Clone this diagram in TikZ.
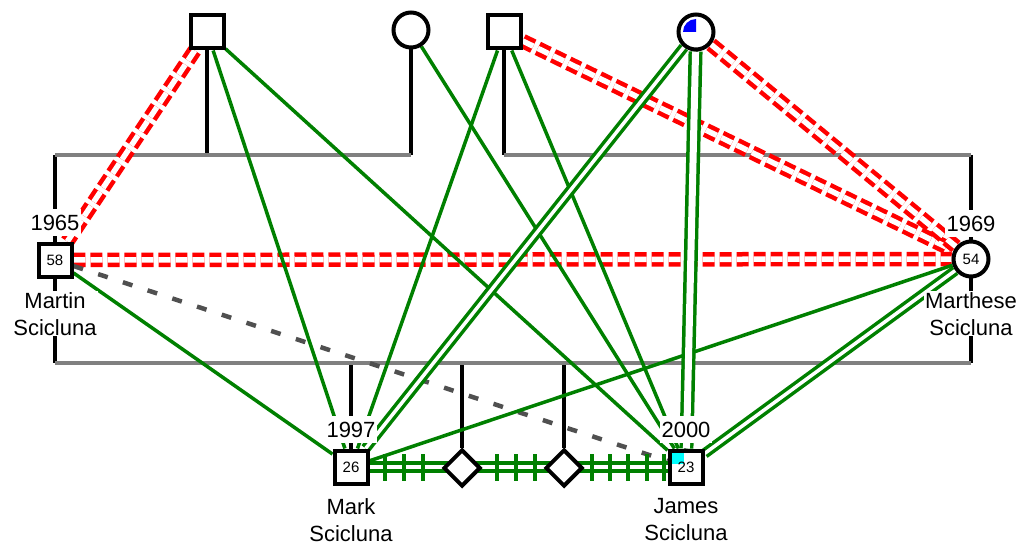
\documentclass[tikz,border=0pt]{standalone}
\usepackage{fontspec}
\setmainfont{Liberation Sans}
\usetikzlibrary{shapes.geometric}
\definecolor{relgreen}{RGB}{0,128,0}
\definecolor{linegray}{RGB}{128,128,128}
\definecolor{dashgray}{RGB}{80,80,80}
\definecolor{conflictred}{RGB}{255,0,0}
\definecolor{markblue}{RGB}{0,0,255}
\definecolor{markcyan}{RGB}{0,255,255}
\pgfdeclarelayer{structure}
\pgfdeclarelayer{relations}
\pgfsetlayers{structure,relations,main}
\tikzset{
  male/.style={rectangle, draw, line width=4pt, fill=white, minimum size=33pt,
    inner sep=0pt, font=\fontsize{15}{15}\selectfont},
  female/.style={circle, draw, line width=4pt, fill=white, minimum size=35pt,
    inner sep=0pt, font=\fontsize{15}{15}\selectfont},
  unknown/.style={diamond, draw, line width=4pt, fill=white, minimum width=37pt,
    minimum height=37pt, inner sep=0pt},
  year/.style={fill=white, inner xsep=2pt, inner ysep=6pt, anchor=base,
    font=\fontsize{22}{22}\selectfont},
  person name/.style={fill=white, inner sep=1pt, align=center, anchor=north,
    font=\fontsize{22}{27}\selectfont},
  kin/.style={line width=3.5pt, black},
  sibship/.style={line width=4pt, linegray},
  bond/.style={line width=3.5pt, relgreen},
  closebond/.style={line width=3.5pt, draw=relgreen, double=white, double distance=3.5pt},
  hostile/.style={line width=4.5pt, draw=conflictred, double=white, double distance=5.5pt,
    dash pattern=on 12pt off 5pt},
  distant/.style={line width=4.5pt, dashgray, dash pattern=on 10pt off 16pt},
  hatchbar/.style={line width=3.5pt, relgreen},
}
\begin{document}
\begin{tikzpicture}[x=1pt, y=-1pt]
\useasboundingbox (0,0) rectangle (1022,548);

% grandparents
\node[male]   (gpa1) at (207,32) {};
\node[female] (gma1) at (411,30) {};
\node[male]   (gpa2) at (504,32) {};
\node[female, path picture={\fill[markblue] (path picture bounding box.center)
    -- ++(-13pt,0pt) arc[start angle=180, end angle=90, radius=13pt] -- cycle;}]
  (gma2) at (696,32) {};

% couple
\node[male]   (martin)   at (55,260)  {58};
\node[female] (marthese) at (971,259) {54};

% children
\node[male] (mark) at (351,467) {26};
\node[male, path picture={\fill[markcyan]
    ([xshift=-17pt, yshift=3pt]path picture bounding box.center)
    rectangle ([xshift=-2pt, yshift=17pt]path picture bounding box.center);}]
  (james) at (686,467) {23};
\node[unknown] (u1) at (462,468) {};
\node[unknown] (u2) at (564,468) {};

% family line end points
\coordinate (famAl) at (55,155);
\coordinate (famAr) at (411,155);
\coordinate (famBl) at (504,155);
\coordinate (famBr) at (971,155);
\coordinate (famCl) at (55,363);
\coordinate (famCr) at (971,363);

\begin{pgfonlayer}{structure}
  \draw[kin] (gpa1) -- (gpa1 |- famAl);
  \draw[kin] (gma1) -- (gma1 |- famAl);
  \draw[kin] (gpa2) -- (gpa2 |- famBl);
  \draw[kin] (gma2) -- (gma2 |- famBl);
  \draw[kin] (famAl) -- (famCl);
  \draw[kin] (famBr) -- (famCr);
  \draw[kin] (mark) -- (mark |- famCl);
  \draw[kin] (u1) -- (u1 |- famCl);
  \draw[kin] (u2) -- (u2 |- famCl);
  \draw[kin] (james) -- (james |- famCl);
  \draw[sibship] (famAl) -- (famAr);
  \draw[sibship] (famBl) -- (famBr);
  \draw[sibship] (famCl) -- (famCr);
\end{pgfonlayer}

\begin{pgfonlayer}{relations}
  % hostile relations
  \draw[hostile] (gpa1) -- (martin);
  \draw[hostile] (gpa2) -- (marthese);
  \draw[hostile] (gma2) -- (marthese);
  \draw[hostile] (martin) -- (marthese);
  % distant relation
  \draw[distant] (martin) -- (james);
  % friendly relations
  \draw[bond] (gpa1) -- (mark);
  \draw[bond] (gpa1) -- (james);
  \draw[bond] (gma1) -- (james);
  \draw[bond] (gpa2) -- (mark);
  \draw[bond] (gpa2) -- (james);
  \draw[bond] (martin) -- (mark);
  \draw[bond] (marthese) -- (mark);
  % close relations
  \draw[closebond] (gma2) -- (mark);
  \draw[closebond, double distance=7pt] (gma2) -- (james);
  \draw[closebond] (marthese) -- (james);
  % hatched sibling bond
  \draw[closebond, double distance=4.5pt] (mark) -- (james);
  \foreach \cx in {385,404,423,497,516,535,592,610,628,647,664}
    \draw[hatchbar] (\cx,454) -- (\cx,481);
\end{pgfonlayer}

% labels
\node[year] (martinyear)   at (55,230)  {1965};
\node[year] (marthyear)    at (971,231) {1969};
\node[year] (markyear)     at (351,437) {1997};
\node[year] (jamesyear)    at (686,437) {2000};
\node[person name] (martinname) at (55,291)  {Martin\\Scicluna};
\node[person name] (marthname)  at (971,291) {Marthese\\Scicluna};
\node[person name] (markname)   at (351,497) {Mark\\Scicluna};
\node[person name] (jamesname)  at (686,497) {James\\Scicluna};
\end{tikzpicture}
\end{document}
